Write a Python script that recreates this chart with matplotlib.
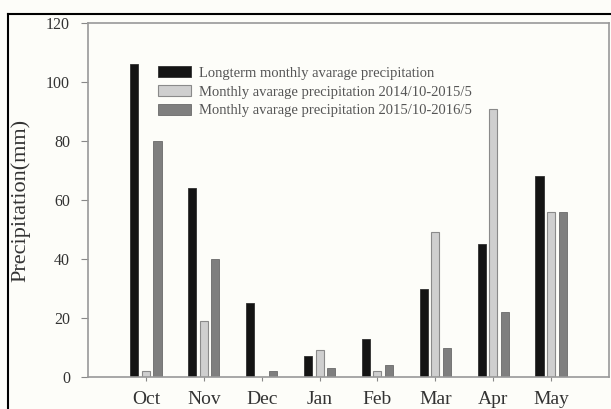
import numpy as np
import matplotlib.pyplot as plt
from matplotlib.lines import Line2D

months = ["Oct", "Nov", "Dec", "Jan", "Feb", "Mar", "Apr", "May"]
longterm = [106, 64, 25, 7, 13, 30, 45, 68]
p_2014 = [2, 19, 0, 9, 2, 49, 91, 56]
p_2015 = [80, 40, 2, 3, 4, 10, 22, 56]
labels = ["Longterm monthly avarage precipitation",
          "Monthly avarage precipitation 2014/10-2015/5",
          "Monthly avarage precipitation 2015/10-2016/5"]

plt.rcParams['font.family'] = ['Liberation Serif', 'DejaVu Serif']

fig = plt.figure(figsize=(6.11, 4.09), dpi=100, facecolor="#fdfdf9")
ax = fig.add_axes([88/611, 1-377/409, (609-88)/611, (377-23)/409])
ax.set_facecolor("#fdfdf9")

x = np.arange(len(months))
w = 0.14
off = 0.2
ax.bar(x - off, longterm, w, color="#141414", edgecolor="#303030", linewidth=0.6, label=labels[0])
ax.bar(x, p_2014, w, color="#cfcfcf", edgecolor="#8a8a8a", linewidth=0.8, label=labels[1])
ax.bar(x + off, p_2015, w, color="#7f7f7f", edgecolor="#6a6a6a", linewidth=0.6, label=labels[2])

ax.set_xlim(-1, 8)
ax.set_ylim(0, 120)
ax.set_yticks(range(0, 121, 20))
ax.set_xticks(x)
ax.set_xticklabels(months)
ax.tick_params(axis="y", direction="out", length=5, color="#888888", labelsize=11.5, labelcolor="#333333", pad=8)
ax.tick_params(axis="x", direction="out", length=3, color="#888888", labelsize=14, labelcolor="#333333", pad=7)
for s in ax.spines.values():
    s.set_color("#999999")
    s.set_linewidth(1.2)
ax.set_ylabel("Precipitation(mm)", fontsize=16, color="#333333")
ax.yaxis.set_label_coords(-0.11, 0.5)

ax.legend(loc="upper left", bbox_to_anchor=(0.134, 0.878), frameon=False, fontsize=10.5,
          borderaxespad=0, borderpad=0,
          handlelength=2.3, handleheight=0.8, labelspacing=0.35, handletextpad=0.55,
          labelcolor="#555555")

# outer frame of the cropped figure
fig.add_artist(Line2D([8/611, 1], [1-14/409, 1-14/409], color="black", lw=1.5))
fig.add_artist(Line2D([8/611, 8/611], [0, 1-14/409], color="black", lw=1.5))

fig.savefig("out.png", dpi=100, facecolor=fig.get_facecolor())
